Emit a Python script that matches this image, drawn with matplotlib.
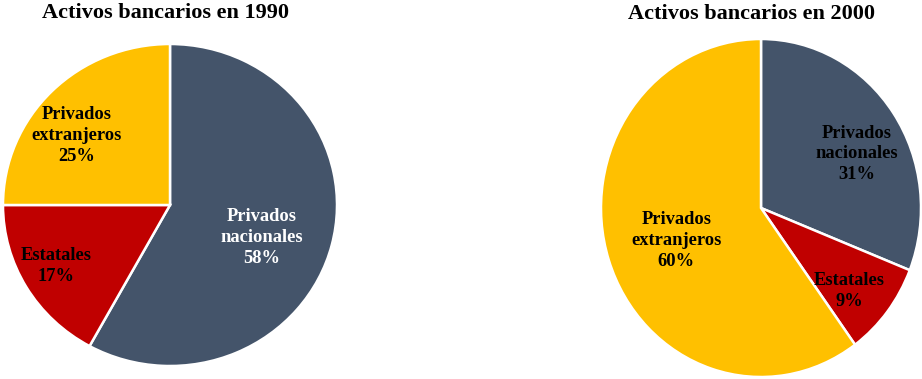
import matplotlib.pyplot as plt

plt.rcParams['font.family'] = ['Liberation Serif', 'DejaVu Serif']

# Bank asset shares by ownership
categories = ['Privados\nnacionales', 'Estatales', 'Privados\nextranjeros']
shares_1990 = [58, 17, 25]
shares_2000 = [31, 9, 60]
colors = ['#44546A', '#C00000', '#FFC000']

W, H = 922, 379
fig = plt.figure(figsize=(W / 100, H / 100), dpi=100)


def px_axes(x0, y0, x1, y1):
    # axes from pixel box (top-left origin)
    return fig.add_axes([x0 / W, 1 - y1 / H, (x1 - x0) / W, (y1 - y0) / H])


def draw_pie(ax, values, label_pos, label_colors):
    ax.pie(values, colors=colors, startangle=90, counterclock=False,
           wedgeprops=dict(edgecolor='white', linewidth=1.8))
    ax.set_aspect('auto')
    ax.set_xlim(-1, 1)
    ax.set_ylim(-1, 1)
    for cat, v, (x, y), c in zip(categories, values, label_pos, label_colors):
        ax.text(x, y, f'{cat}\n{v}%', ha='center', va='center', fontsize=13.3,
                fontweight='bold', color=c, linespacing=1.3)


ax1 = px_axes(3, 44, 337, 366)
draw_pie(ax1, shares_1990,
         [(0.55, -0.2), (-0.68, -0.38), (-0.56, 0.43)],
         ['white', 'black', 'black'])

ax2 = px_axes(601, 39, 921, 377)
draw_pie(ax2, shares_2000,
         [(0.6, 0.32), (0.55, -0.49), (-0.53, -0.19)],
         ['black', 'black', 'black'])

fig.text(165 / W, 1 - 13 / H, 'Activos bancarios en 1990', ha='center', va='center',
         fontsize=16, fontweight='bold')
fig.text(751 / W, 1 - 14 / H, 'Activos bancarios en 2000', ha='center', va='center',
         fontsize=16, fontweight='bold')

fig.savefig('out.png', dpi=100)
